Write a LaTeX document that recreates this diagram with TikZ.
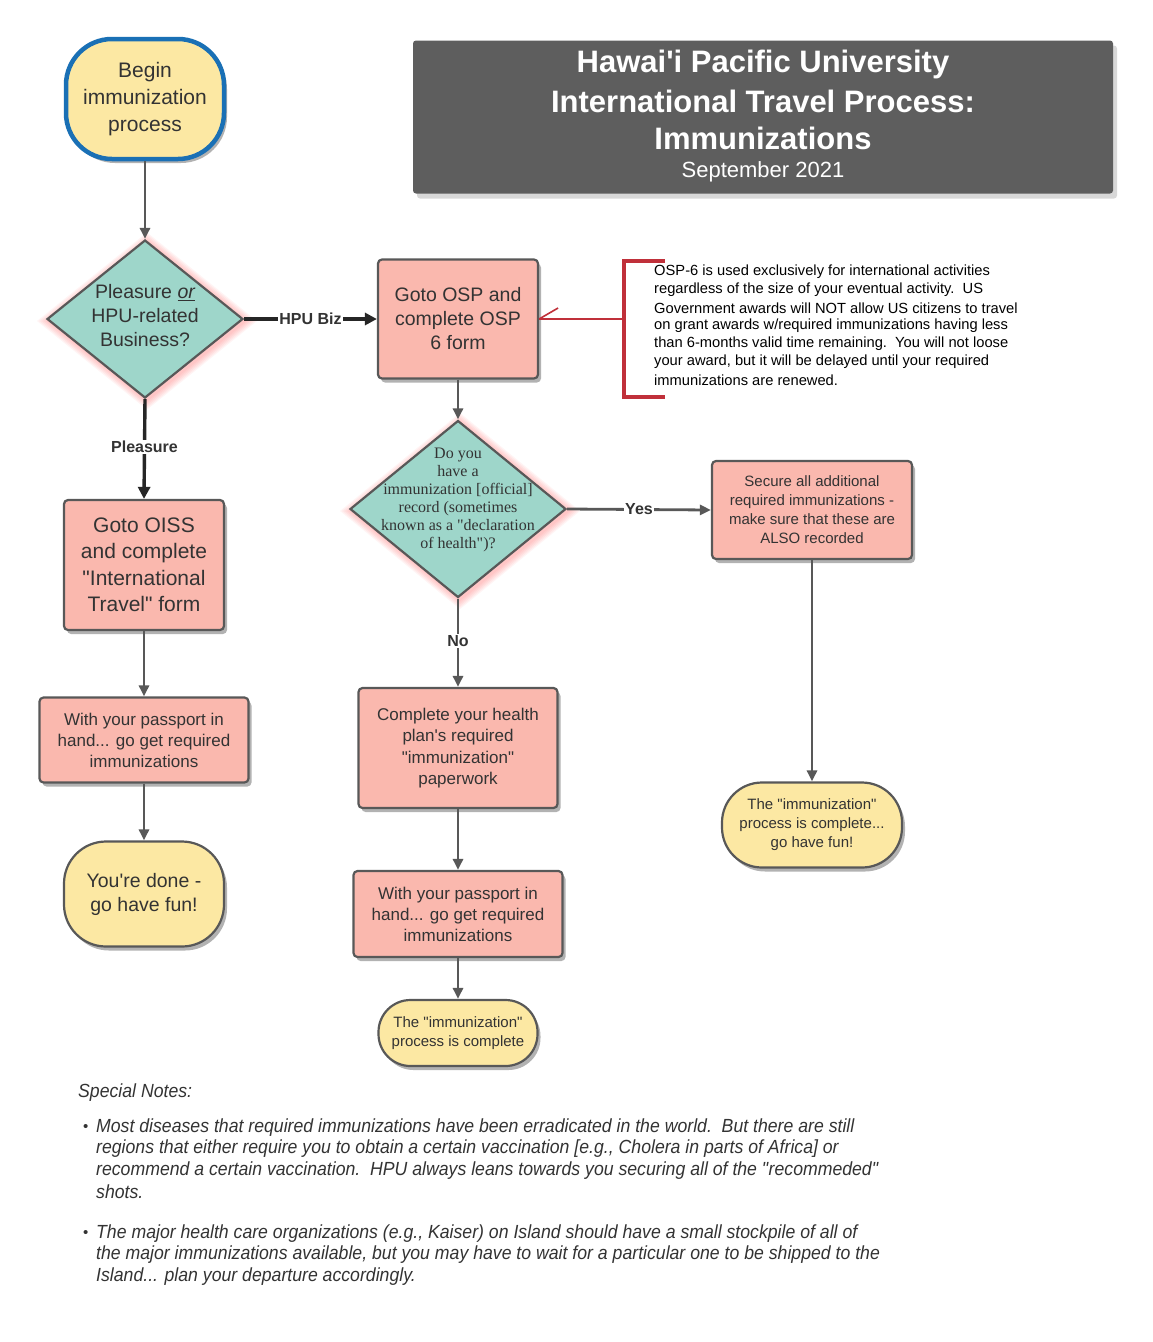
\documentclass[tikz,border=0pt]{standalone}
\usepackage{fontspec}
\setmainfont{Liberation Sans}
\newfontfamily\serifdia{Liberation Serif}
\newfontfamily\narrowit[FakeStretch=0.93]{Liberation Sans}
\usetikzlibrary{shapes.geometric,arrows.meta,shadows}
\newcommand{\qd}{\textquotedbl}
\newcommand{\ap}{\textquotesingle}
\newcommand{\diaglow}[4]{%
  \foreach \k in {1,...,6}{%
    \fill[red!60,opacity=0.07] ({#1+2},{#2-2}) ++({-(#3+2*\k)},0) -- ++({#3+2*\k},{#4+1.6*\k}) -- ++({#3+2*\k},{-(#4+1.6*\k)}) -- ++({-(#3+2*\k)},{-(#4+1.6*\k)}) -- cycle;}}
\definecolor{salmon}{HTML}{FAB8AE}
\definecolor{teal}{HTML}{9ED6CA}
\definecolor{creamy}{HTML}{FCE8A3}
\definecolor{startblue}{HTML}{1A70B5}
\definecolor{boxline}{HTML}{585858}
\definecolor{titlegrey}{HTML}{5E5E5E}
\definecolor{txt}{HTML}{333333}
\definecolor{redbr}{HTML}{C0303A}
\begin{document}
\begin{tikzpicture}[x=1pt,y=1pt,
  every node/.style={text=txt},
  shade/.style={drop shadow={shadow xshift=3pt,shadow yshift=-4pt,opacity=0.3,fill=black}},
  box/.style={draw=boxline,line width=2.2pt,fill=salmon,rounded corners=4pt,align=center,shade},
  term/.style={draw=boxline,line width=2.2pt,fill=creamy,align=center,shade},
  dia/.style={diamond,draw=boxline,line width=2.2pt,fill=teal,inner sep=0pt},
  conn/.style={draw=boxline,line width=2.8pt,-{Triangle[length=11pt,width=10pt]}},
  connk/.style={draw=black!85,line width=3.4pt,-{Triangle[length=12pt,width=12pt]}},
  lab/.style={fill=white,font=\bfseries\fontsize{16}{18}\selectfont,inner sep=1pt},
  note/.style={anchor=west,font=\narrowit\itshape\fontsize{19}{22}\selectfont,text=txt,inner sep=0pt},
  ann/.style={anchor=west,font=\fontsize{14.7}{17}\selectfont,text=black,inner sep=0pt}
]
\useasboundingbox (0,0) rectangle (1153,-1342);
\fill[white] (0,0) rectangle (1153,-1342);

% title
\node (title) [fill=titlegrey,minimum width=700pt,minimum height=153pt,rounded corners=3pt,
  drop shadow={shadow xshift=4pt,shadow yshift=-5pt,opacity=0.3}] at (763,-117) {};
\node (t1) [text=white,font=\bfseries\fontsize{31}{36}\selectfont] at (763,-64) {Hawai\ap i Pacific University};
\node (t2) [text=white,font=\bfseries\fontsize{31}{36}\selectfont] at (763,-101) {International Travel Process:};
\node (t3) [text=white,font=\bfseries\fontsize{31}{36}\selectfont] at (763,-138) {Immunizations};
\node (t4) [text=white,font=\fontsize{22}{26}\selectfont] at (763,-172) {September 2021};

% start
\node (start) [draw=startblue,line width=4.5pt,fill=creamy,rounded corners=46pt,minimum width=158pt,minimum height=120pt,align=center,
  font=\fontsize{21}{27}\selectfont,shade] at (145,-99) {Begin\\immunization\\process};

% diamond 1
\diaglow{145}{-319}{98}{79}
\node (d1) [dia,minimum width=196pt,minimum height=158pt] at (145,-319) {};
\node (d1t) [align=center,font=\fontsize{19.5}{24}\selectfont] at (145,-316) {Pleasure \underline{\itshape or}\\HPU-related\\Business?};

% OSP
\node (osp) [box,minimum width=160pt,minimum height=119pt,font=\fontsize{19.5}{24}\selectfont] at (458,-319) {Goto OSP and\\complete OSP\\6 form};

% OISS
\node (oiss) [box,minimum width=160pt,minimum height=130pt,font=\fontsize{21}{26.5}\selectfont] at (144,-565) {Goto OISS\\and complete\\\qd International\\Travel\qd{} form};

\node (pass1) [box,minimum width=209pt,minimum height=85pt,font=\fontsize{17}{21}\selectfont] at (144,-740) {With your passport in\\hand... go get required\\immunizations};

\node (done1) [term,rounded corners=42pt,minimum width=160pt,minimum height=105pt,font=\fontsize{19.5}{24}\selectfont] at (144,-894) {You\ap re done -\\go have fun!};

% diamond 2
\diaglow{458}{-509}{108}{88.5}
\node (d2) [dia,minimum width=216pt,minimum height=177pt] at (458,-509) {};
\node (d2t) [align=center,font=\serifdia\fontsize{16}{18}\selectfont] at (458,-500) {Do you\\have a\\immunization [official]\\record (sometimes\\known as a \qd declaration\\of health\qd)?};

\node (secure) [box,minimum width=200pt,minimum height=98pt,font=\fontsize{15}{19}\selectfont] at (812,-510) {Secure all additional\\required immunizations -\\make sure that these are\\ALSO recorded};

\node (fin2) [term,rounded corners=40pt,minimum width=180pt,minimum height=85pt,font=\fontsize{15}{19}\selectfont] at (812,-825) {The \qd immunization\qd\\process is complete...\\go have fun!};

\node (health) [box,minimum width=199pt,minimum height=120pt,font=\fontsize{17}{21.5}\selectfont] at (458,-748) {Complete your health\\plan\ap s required\\\qd immunization\qd\\paperwork};

\node (pass2) [box,minimum width=209pt,minimum height=86pt,font=\fontsize{17}{21}\selectfont] at (458,-914) {With your passport in\\hand... go get required\\immunizations};

\node (fin1) [term,rounded corners=32pt,minimum width=159pt,minimum height=66pt,font=\fontsize{15}{19}\selectfont] at (458,-1033) {The \qd immunization\qd\\process is complete};

% connectors
\draw[conn] (start) -- (d1);
\draw[connk] (d1.east) -- node[lab]{HPU Biz} (osp.west);
\draw[connk] (d1.south) -- node[lab,pos=0.48]{Pleasure} (oiss.north);
\draw[conn] (oiss) -- (pass1);
\draw[conn] (pass1) -- (done1);
\draw[conn] (osp) -- (d2);
\draw[conn] (d2.east) -- node[lab,pos=0.5]{Yes} (secure.west);
\draw[conn] (secure) -- (fin2);
\draw[conn] (d2.south) -- node[lab,pos=0.48]{No} (health.north);
\draw[conn] (health) -- (pass2);
\draw[conn] (pass2) -- (fin1);

% annotation bracket
\coordinate (br) at (624,-319);
\draw[redbr,line width=4.5pt] (665,-261) -- (624,-261) -- (624,-397) -- (665,-397);
\draw[redbr,line width=1.6pt] (br) -- (osp.east);
\draw[redbr,line width=1.6pt] (osp.east) -- ++(19,11);
\node (a1) [ann] at (654,-272) {OSP-6 is used exclusively for international activities};
\node (a2) [ann] at (654,-290) {regardless of the size of your eventual activity.\ \ US};
\node (a3) [ann] at (654,-308) {Government awards will NOT allow US citizens to travel};
\node (a4) [ann] at (654,-326) {on grant awards w/required immunizations having less};
\node (a5) [ann] at (654,-344) {than 6-months valid time remaining.\ \ You will not loose};
\node (a6) [ann] at (654,-362) {your award, but it will be delayed until your required};
\node (a7) [ann] at (654,-380) {immunizations are renewed.};

% notes
\node (n0) [note] at (78,-1093) {Special Notes:};
\node (b1) [note,font=\fontsize{15}{18}\selectfont] at (83,-1128) {•};
\node (n1) [note] at (96,-1128) {Most diseases that required immunizations have been erradicated in the world.\ \ But there are still};
\node (n2) [note] at (96,-1149) {regions that either require you to obtain a certain vaccination [e.g., Cholera in parts of Africa] or};
\node (n3) [note] at (96,-1171) {recommend a certain vaccination.\ \ HPU always leans towards you securing all of the \qd recommeded\qd};
\node (n4) [note] at (96,-1192) {shots.};
\node (b2) [note,font=\fontsize{15}{18}\selectfont] at (83,-1234) {•};
\node (n5) [note] at (96,-1234) {The major health care organizations (e.g., Kaiser) on Island should have a small stockpile of all of};
\node (n6) [note] at (96,-1255) {the major immunizations available, but you may have to wait for a particular one to be shipped to the};
\node (n7) [note] at (96,-1277) {Island... plan your departure accordingly.};
\end{tikzpicture}
\end{document}
